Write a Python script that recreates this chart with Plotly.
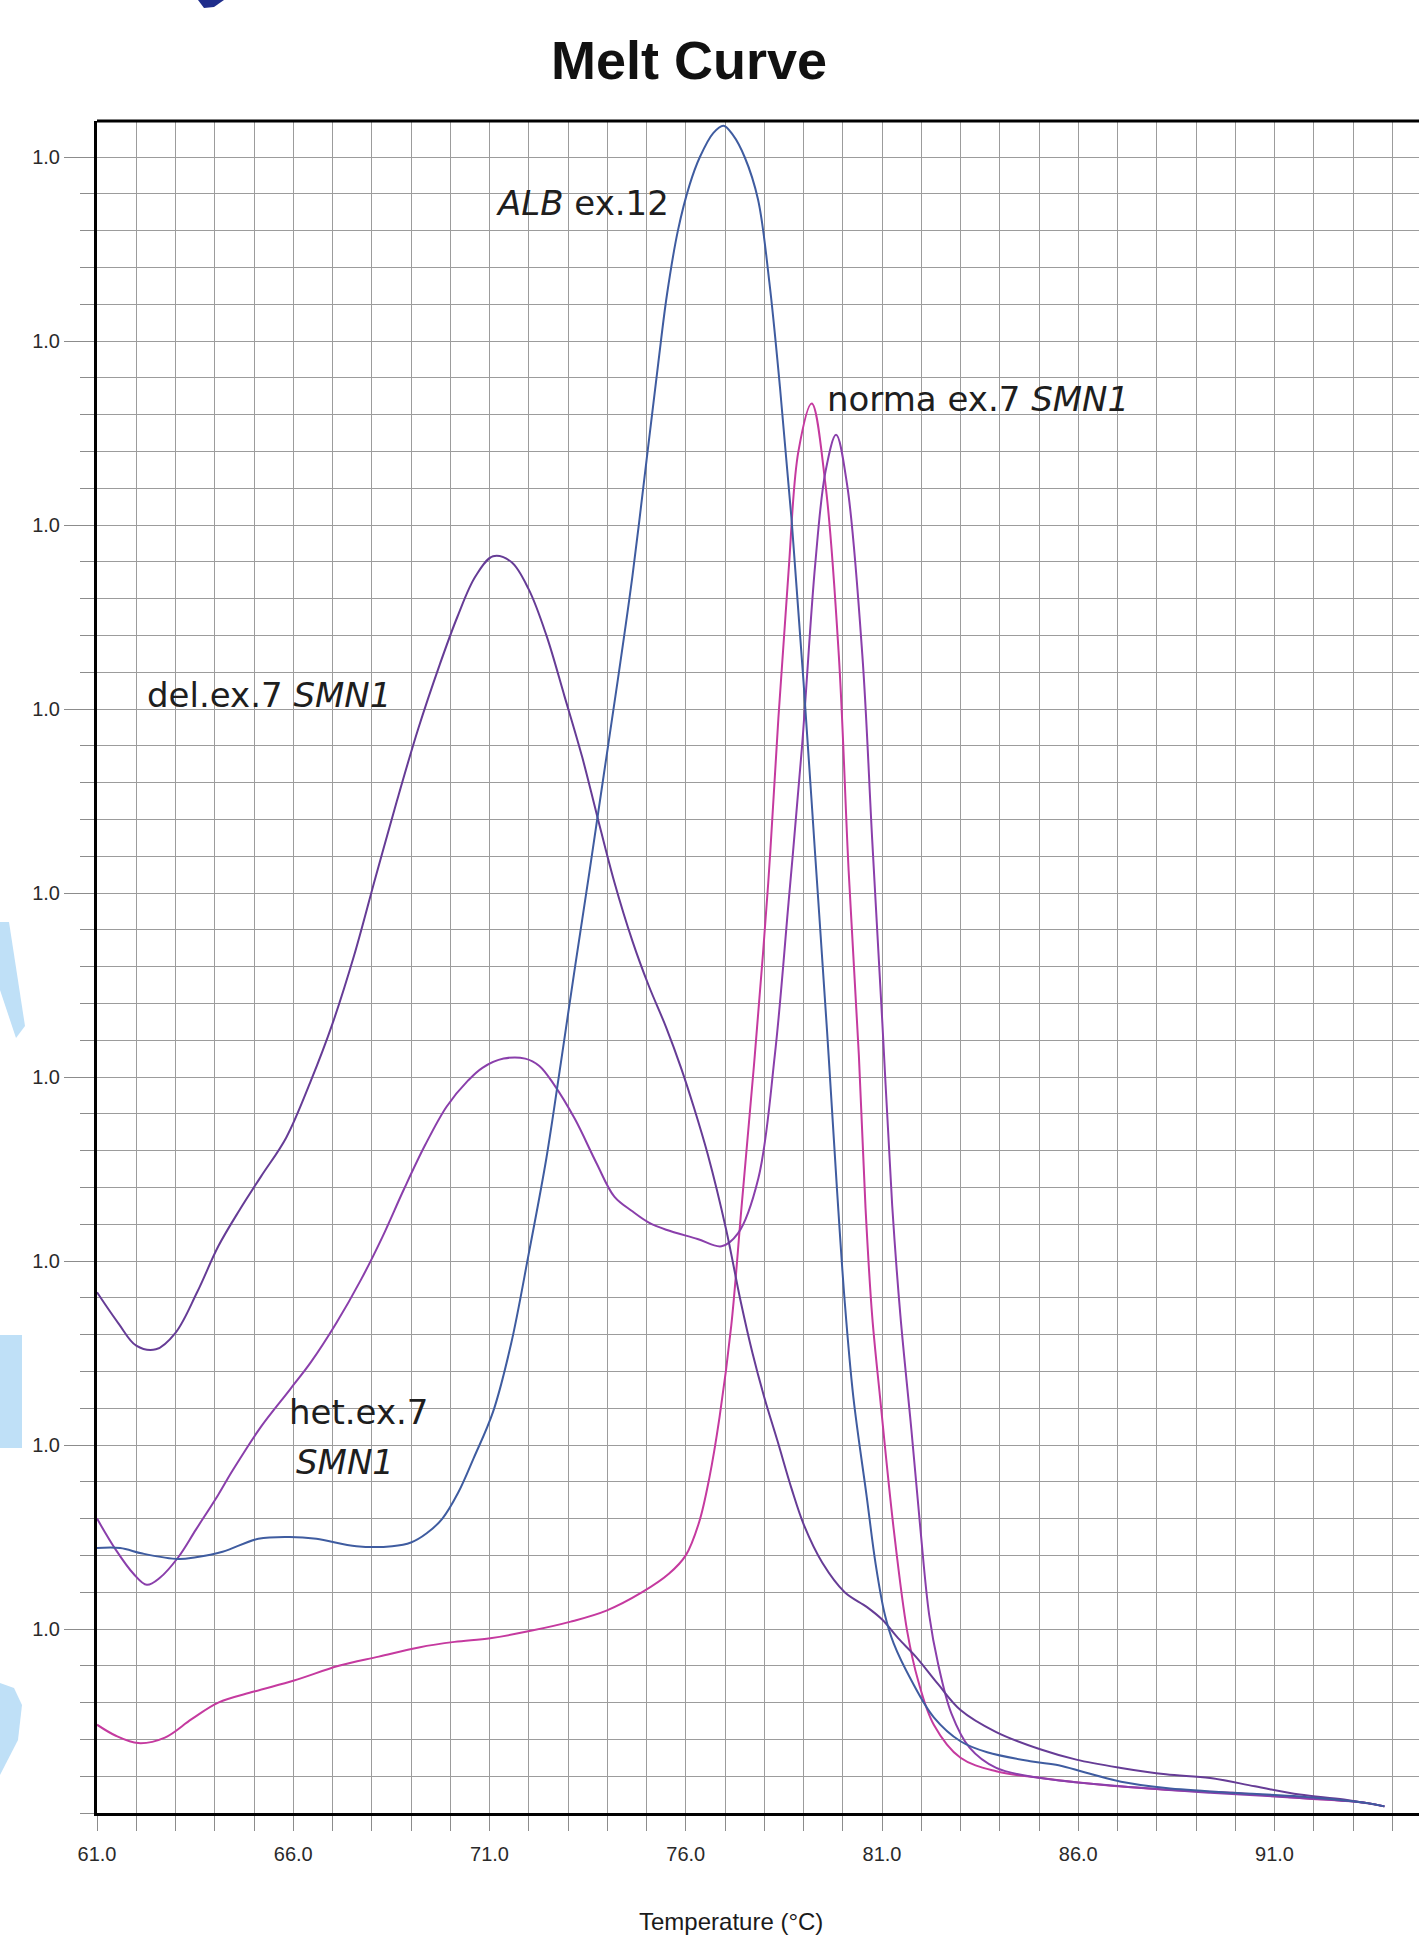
import plotly.graph_objects as go

# ---------------- data ----------------
alb_t = [61.0, 61.59, 62.16, 63.07, 63.52, 64.2, 65.11, 65.91, 66.59, 67.61, 68.52, 69.0, 69.4, 69.8,
         70.2, 70.6, 71.09, 71.55, 72.0, 72.45, 72.82, 73.18, 73.55, 73.91, 74.27, 74.64, 75.0, 75.3,
         75.52, 75.8, 76.1, 76.36, 76.7, 76.96, 77.2, 77.5, 77.84, 78.13, 78.4, 78.7, 79.0, 79.3,
         79.6, 79.85, 80.05, 80.27, 80.61, 80.84, 81.07, 81.3, 81.75, 82.32, 83.0, 83.68, 84.82, 85.5,
         86.18, 87.09, 88.23, 89.93, 91.64, 93.34, 93.8]
alb_y = [1.44, 1.44, 1.41, 1.38, 1.39, 1.42, 1.49, 1.50, 1.49, 1.45, 1.45, 1.47, 1.52, 1.60,
         1.74, 1.93, 2.18, 2.55, 3.04, 3.56, 4.08, 4.60, 5.12, 5.64, 6.16, 6.72, 7.35, 7.88,
         8.25, 8.60, 8.85, 9.00, 9.13, 9.17, 9.12, 9.00, 8.77, 8.32, 7.75, 7.02, 6.15, 5.20,
         4.25, 3.40, 2.78, 2.26, 1.72, 1.35, 1.08, 0.92, 0.72, 0.52, 0.39, 0.33, 0.28, 0.26,
         0.22, 0.17, 0.136, 0.11, 0.09, 0.055, 0.036]

del_t = [61.0, 61.55, 62.0, 62.5, 63.0, 63.55, 64.09, 64.64, 65.18, 65.82, 66.45, 67.0, 67.55, 68.09,
         68.64, 69.18, 69.73, 70.18, 70.64, 71.09, 71.55, 72.0, 72.45, 72.91, 73.36, 73.73, 74.18,
         74.64, 75.05, 75.5, 75.88, 76.2, 76.56, 77.03, 77.4, 77.7, 78.0, 78.34, 78.7, 79.02, 79.48,
         80.05, 80.61, 81.01, 81.41, 81.86, 82.43, 83.0, 83.91, 85.05, 85.95, 87.09, 88.23, 89.36,
         90.5, 91.64, 92.77, 93.8]
del_y = [2.83, 2.66, 2.54, 2.52, 2.61, 2.83, 3.08, 3.28, 3.46, 3.67, 3.98, 4.29, 4.66, 5.08,
         5.50, 5.89, 6.24, 6.50, 6.72, 6.83, 6.80, 6.65, 6.40, 6.07, 5.74, 5.43, 5.06,
         4.74, 4.50, 4.27, 4.05, 3.84, 3.58, 3.17, 2.78, 2.50, 2.26, 2.02, 1.76, 1.56, 1.36,
         1.20, 1.12, 1.05, 0.95, 0.85, 0.70, 0.56, 0.44, 0.345, 0.29, 0.245, 0.21, 0.19,
         0.145, 0.10, 0.073, 0.036]

het_t = [61.0, 61.48, 61.93, 62.27, 62.61, 63.07, 63.52, 64.09, 64.45, 65.18, 65.91, 66.45, 67.09,
         67.73, 68.27, 68.82, 69.36, 69.91, 70.45, 70.82, 71.36, 71.91, 72.27, 72.64, 73.18, 73.73,
         74.18, 74.64, 75.05, 75.5, 76.3, 76.91, 77.33, 77.85, 78.27, 78.62, 78.96, 79.30, 79.56,
         79.83, 80.11, 80.50, 80.75, 81.01, 81.26, 81.47, 81.75, 81.98, 82.2, 82.43, 82.77, 83.23,
         83.91, 85.05, 87.09, 89.36, 91.64, 93.34, 93.8]
het_y = [1.60, 1.43, 1.30, 1.24, 1.28, 1.39, 1.54, 1.73, 1.86, 2.10, 2.30, 2.45, 2.66,
         2.90, 3.13, 3.39, 3.63, 3.84, 3.98, 4.05, 4.10, 4.10, 4.06, 3.96, 3.77, 3.53,
         3.35, 3.27, 3.21, 3.17, 3.12, 3.08, 3.15, 3.45, 4.12, 4.95, 5.79, 6.79, 7.29,
         7.49, 7.22, 6.29, 5.29, 4.29, 3.30, 2.70, 2.08, 1.54, 1.08, 0.81, 0.54, 0.355,
         0.245, 0.19, 0.145, 0.11, 0.082, 0.055, 0.036]

norm_t = [61.0, 61.48, 62.05, 62.73, 63.41, 64.09, 65.0, 66.02, 67.16, 68.18, 69.2, 70.11, 71.02,
          72.05, 73.07, 73.98, 74.89, 75.57, 76.0, 76.34, 76.6, 76.86, 77.16, 77.42, 77.76, 78.10,
          78.36, 78.62, 78.87, 79.21, 79.56, 79.90, 80.15, 80.41, 80.58, 80.75, 80.95, 81.3, 81.64,
          81.92, 82.32, 83.0, 83.91, 85.05, 86.52, 88.23, 89.93, 91.64, 93.34, 93.8]
norm_y = [0.48, 0.42, 0.38, 0.41, 0.51, 0.60, 0.66, 0.72, 0.80, 0.85, 0.90, 0.93, 0.95,
          0.99, 1.04, 1.10, 1.20, 1.30, 1.40, 1.58, 1.82, 2.15, 2.65, 3.29, 4.12, 5.05,
          5.95, 6.75, 7.40, 7.66, 7.22, 6.29, 5.12, 4.12, 3.29, 2.70, 2.26, 1.54, 0.99,
          0.72, 0.48, 0.30, 0.227, 0.19, 0.155, 0.127, 0.11, 0.082, 0.055, 0.036]

x_tick_vals = [61, 66, 71, 76, 81, 86, 91]
x_tick_text = ["61.0", "66.0", "71.0", "76.0", "81.0", "86.0", "91.0"]
y_tick_vals = [1, 2, 3, 4, 5, 6, 7, 8, 9]
y_tick_text = ["1.0", "1.0", "1.0", "1.0", "1.0", "1.0", "1.0", "1.0", "1.0"]

# ---------------- layout geometry ----------------
W, H = 1419, 1936
ML, MT, MB = 97, 121, 123
PW, PH = W - ML, H - MT - MB
PX_PER_C = 39.25
PX_PER_Y = 184.0
x_range = [61, 61 + PW / PX_PER_C]
y_range = [0, PH / PX_PER_Y]

def pp(xf, yf):
    return (xf - ML) / PW, (H - MB - yf) / PH

def path(points):
    s = ""
    for i, (a, b) in enumerate(points):
        px, py = pp(a, b)
        s += ("M" if i == 0 else " L") + f" {px:.5f},{py:.5f}"
    return s + " Z"

fig = go.Figure()
series = [
    (norm_t, norm_y, "#c53a9f"),
    (het_t, het_y, "#8a3fab"),
    (del_t, del_y, "#663c96"),
    (alb_t, alb_y, "#3f5ca0"),
]
for t, y, c in series:
    fig.add_trace(go.Scatter(x=t, y=y, mode="lines",
                             line=dict(color=c, width=2, shape="spline", smoothing=1.0),
                             showlegend=False, hoverinfo="skip"))

grid_c = "#9c9c9c"
tick_c = "#8c8c8c"
tick_font = dict(family="Liberation Sans, Arial, sans-serif", size=20, color="#2a2a2a")

fig.update_xaxes(range=x_range, tickmode="array", tickvals=x_tick_vals, ticktext=x_tick_text,
                 ticks="outside", ticklen=15, tickcolor=tick_c, tickwidth=1, ticklabelstandoff=6,
                 showgrid=True, gridcolor=grid_c, gridwidth=1,
                 minor=dict(tickmode="linear", tick0=61, dtick=1, ticks="outside", ticklen=15,
                            tickcolor=tick_c, showgrid=True, gridcolor=grid_c, gridwidth=1),
                 showline=True, linecolor="black", linewidth=3, zeroline=False,
                 tickfont=tick_font, fixedrange=True)
fig.update_yaxes(range=y_range, tickmode="array", tickvals=y_tick_vals, ticktext=y_tick_text,
                 ticks="outside", ticklen=30, tickcolor=tick_c, tickwidth=1,
                 showgrid=True, gridcolor=grid_c, gridwidth=1,
                 minor=dict(tickmode="linear", tick0=0, dtick=0.2, ticks="outside", ticklen=14,
                            tickcolor=tick_c, showgrid=True, gridcolor=grid_c, gridwidth=1),
                 showline=True, linecolor="black", linewidth=3, zeroline=False,
                 tickfont=tick_font, fixedrange=True)

lab_font = dict(family="DejaVu Sans, Verdana, sans-serif", size=34, color="#1e1e1e")
annotations = [
    dict(x=61 + (494 - ML) / PX_PER_C, y=(H - MB - 203) / PX_PER_Y, text="<i>ALB</i> ex.12"),
    dict(x=61 + (825 - ML) / PX_PER_C, y=(H - MB - 399) / PX_PER_Y, text="norma ex.7 <i>SMN1</i>"),
    dict(x=61 + (145 - ML) / PX_PER_C, y=(H - MB - 695) / PX_PER_Y, text="del.ex.7 <i>SMN1</i>"),
    dict(x=61 + (287 - ML) / PX_PER_C, y=(H - MB - 1412) / PX_PER_Y, text="het.ex.7"),
    dict(x=61 + (294 - ML) / PX_PER_C, y=(H - MB - 1462) / PX_PER_Y, text="<i>SMN1</i>"),
]
anns = []
for a in annotations:
    anns.append(dict(a, xref="x", yref="y", xanchor="left", yanchor="middle",
                     showarrow=False, font=lab_font))
tx, ty = pp(731, 1922)
anns.append(dict(x=tx, y=ty, xref="paper", yref="paper", xanchor="center", yanchor="middle",
                 text="Temperature (°C)", showarrow=False,
                 font=dict(family="Liberation Sans, Arial, sans-serif", size=24, color="#1a1a1a")))

shapes = [
    dict(type="line", xref="paper", yref="paper", x0=0, x1=1, y0=1, y1=1,
         line=dict(color="black", width=3)),
    dict(type="path", xref="paper", yref="paper",
         path=path([(0, 922), (9, 922), (25, 1026), (16, 1038), (0, 990)]),
         fillcolor="#bfe0f7", line=dict(width=0), layer="below"),
    dict(type="path", xref="paper", yref="paper",
         path=path([(0, 1335), (22, 1335), (22, 1448), (0, 1448)]),
         fillcolor="#bfe0f7", line=dict(width=0), layer="below"),
    dict(type="path", xref="paper", yref="paper",
         path=path([(0, 1683), (14, 1688), (22, 1705), (18, 1740), (0, 1775)]),
         fillcolor="#bfe0f7", line=dict(width=0), layer="below"),
    dict(type="path", xref="paper", yref="paper",
         path=path([(198, 0), (224, 0), (214, 7), (204, 8)]),
         fillcolor="#1f2d8c", line=dict(width=0)),
]

fig.update_layout(
    width=W, height=H, autosize=False,
    margin=dict(l=ML, r=0, t=MT, b=MB, pad=0),
    paper_bgcolor="white", plot_bgcolor="white",
    showlegend=False,
    title=dict(text="<b>Melt Curve</b>", x=689 / W, xref="container", xanchor="center",
               y=1 - 60 / H, yref="container", yanchor="middle",
               font=dict(family="Liberation Sans, Arial, sans-serif", size=54, color="#111111")),
    annotations=anns,
    shapes=shapes,
)

fig.write_html("out.html", include_plotlyjs=True, config={"displayModeBar": False, "staticPlot": True})
